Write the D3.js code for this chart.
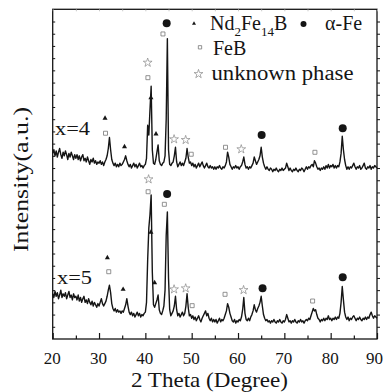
<!DOCTYPE html>
<html><head><meta charset="utf-8">
<script src="https://cdn.jsdelivr.net/npm/d3@7"></script>
<style>body{margin:0;background:#fff} text{font-family:'Liberation Serif','Times New Roman',serif}</style>
</head><body>
<svg id="chart" width="383" height="392"></svg>
<script>
// ---- data ----
const thetaStart = 20, thetaStep = 0.25;   // scan grid (2θ, degrees)
const xTicks = [20, 30, 40, 50, 60, 70, 80, 90];
const xMinorTicks = [25, 35, 45, 55, 65, 75, 85];
const sampleLabels = ["x=4", "x=5"];
const xTitle = "2 Theta (Degree)";
const yTitle = "Intensity(a.u.)";

const intensityX4 = [
  152,155,150,154,149,153,156,151,148,153,150,154,151,147,152,149,153,150,147,151,
  148,151,147,150,146,149,151,146,148,145,149,146,143,147,145,148,144,146,143,145,
  144,146,143,145,142,145,147,150,156,165,155,147,144,142,144,141,143,141,144,142,
  143,145,147,150,146,143,141,143,140,142,144,141,143,140,142,144,141,142,140,142,
  143,148,175,167,188,207,155,144,143,147,153,159,146,143,142,144,145,150,180,246,
  155,143,142,144,145,150,157,145,141,143,145,142,144,142,145,148,156,149,144,145,
  142,144,141,143,140,142,144,141,143,145,142,140,142,144,141,140,142,140,141,139,
  141,139,141,140,142,140,139,141,140,142,145,153,149,143,141,139,141,140,142,140,
  141,139,141,142,145,149,143,140,141,139,141,140,142,144,149,146,143,145,147,150,
  157,149,144,141,139,141,139,138,140,139,137,139,138,140,138,137,139,138,140,138,
  139,140,144,141,138,140,138,137,139,138,140,138,137,139,138,140,139,137,139,141,
  139,141,140,142,143,141,146,144,141,139,140,138,140,139,141,139,142,140,143,140,
  142,141,143,140,142,140,142,141,145,152,166,155,147,142,139,141,139,141,140,142,
  144,141,139,141,140,142,139,140,142,144,140,139,141,140,142,139,141,140,142,141,
  140
];
const intensityX5 = [
  37,34,39,35,38,33,36,40,34,37,35,38,33,36,39,34,36,32,37,34,
  35,32,36,31,34,30,33,35,30,32,29,33,30,28,31,27,30,28,26,29,
  27,30,33,29,27,29,31,35,40,44,38,29,25,23,25,22,24,22,23,21,
  23,22,25,28,33,27,22,20,22,19,21,18,20,22,19,21,18,20,19,21,
  22,30,65,91,102,118,55,28,26,29,32,36,24,21,20,23,27,40,85,104,
  50,24,19,21,23,27,35,24,19,21,18,20,22,19,21,27,37,26,19,20,
  17,19,16,18,15,17,19,16,14,17,19,21,23,19,21,17,15,17,14,16,
  14,16,13,15,17,14,16,15,17,20,23,29,26,21,18,15,14,16,13,15,
  14,16,15,18,24,34,21,16,15,17,15,18,20,23,28,24,22,25,27,30,
  35,27,20,17,15,16,14,15,13,15,14,16,14,13,15,14,16,14,13,15,
  14,16,20,17,14,15,13,15,14,16,14,13,15,14,16,14,15,13,15,16,
  15,17,16,19,22,25,23,24,20,17,16,14,16,15,17,15,17,16,19,16,
  17,15,17,16,18,16,18,17,21,30,43,32,22,18,16,18,15,17,16,18,
  19,17,15,17,16,18,16,15,17,16,18,16,18,17,20,22,19,17,19,18,
  17
];

// phase markers: [2θ, intensity]
const nd2fe14bMarks = [[31.3,180.8],[35.5,157.5],[41.2,197.6],[42.3,167.9],
                       [31.8,66.6],[35.2,40.7],[41.2,87.4],[42.0,46.1]];
const alphaFeMarks  = [[44.6,258.6],[65.1,167.1],[82.6,172.6],
                       [44.7,118.8],[65.3,41.5],[82.6,50.5]];
const feBMarks      = [[31.4,168.5],[40.55,214.0],[43.8,249.8],[49.9,151.3],[57.3,157.0],[76.6,152.9],
                       [32.1,55.1],[40.6,120.6],[44.1,110.3],[50.1,27.3],[57.2,36.6],[76.1,31.1]];
const unknownMarks  = [[40.5,226.3],[46.2,163.6],[48.7,163.0],[60.7,155.4],
                       [40.7,130.8],[46.2,40.7],[48.7,41.5],[61.2,40.1]];

// ---- drawing ----
const svg = d3.select("#chart");
const serif = "'Liberation Serif','Times New Roman',serif";
const ink = "#151515";
const L = 52.7, R = 377, T = 9.3, B = 339;
const x = d3.scaleLinear().domain([20, 90]).range([L, R]);
const y = d3.scaleLinear().domain([0, 270]).range([B, T]);

const toPts = arr => arr.map((v, i) => [thetaStart + i * thetaStep, v]);
const line = d3.line().x(d => x(d[0])).y(d => y(d[1]));

// frame
svg.append("rect").attr("x", L).attr("y", T).attr("width", R - L).attr("height", B - T)
  .attr("fill", "none").attr("stroke", ink).attr("stroke-width", 1.3);

// bottom axis (ticks inward)
const gx = svg.append("g").attr("transform", `translate(0,${B})`)
  .call(d3.axisBottom(x).tickValues(xTicks).tickSize(-6).tickFormat(d3.format("d")));
gx.attr("font-family", serif);
gx.select(".domain").remove();
gx.selectAll(".tick line").attr("stroke", ink).attr("stroke-width", 1.2);
gx.selectAll(".tick text").style("font-family", serif).attr("font-size", 17).attr("fill", ink)
  .attr("dy", "0.71em").attr("y", 13).attr("x", d => d === 90 ? -3 : -1);
const gxm = svg.append("g").attr("transform", `translate(0,${B})`)
  .call(d3.axisBottom(x).tickValues(xMinorTicks).tickSize(-3.5).tickFormat(""));
gxm.select(".domain").remove();
gxm.selectAll(".tick line").attr("stroke", ink).attr("stroke-width", 1.2);

// top minor ticks (faint)
const gt = svg.append("g").attr("transform", `translate(0,${T})`)
  .call(d3.axisTop(x).tickValues(xTicks.concat(xMinorTicks)).tickSize(-2).tickFormat(""));
gt.select(".domain").remove();
gt.selectAll(".tick line").attr("stroke", "#bbb").attr("stroke-width", 0.8);

// left (inward) and right (outward) ticks, no labels
const yTickVals = d3.range(10, 270, 10);
const gl = svg.append("g").attr("transform", `translate(${L},0)`)
  .call(d3.axisLeft(y).tickValues(yTickVals).tickSize(-2.5).tickFormat(""));
gl.select(".domain").remove();
gl.selectAll(".tick line").attr("stroke", ink).attr("stroke-width", 1);
const gr = svg.append("g").attr("transform", `translate(${R},0)`)
  .call(d3.axisRight(y).tickValues(yTickVals).tickSize(3).tickFormat(""));
gr.select(".domain").remove();
gr.selectAll(".tick line").attr("stroke", ink).attr("stroke-width", 1);

// curves
[intensityX4, intensityX5].forEach(arr => {
  svg.append("path").datum(toPts(arr)).attr("d", line)
    .attr("fill", "none").attr("stroke", ink).attr("stroke-width", 1.4)
    .attr("stroke-linejoin", "round");
});

// markers
const sym = (type, size) => d3.symbol().type(type).size(size)();
function drawMarks(data, type, size, fill, stroke, sw) {
  svg.append("g").selectAll("path").data(data).join("path")
    .attr("transform", d => `translate(${x(d[0])},${y(d[1])})`)
    .attr("d", sym(type, size)).attr("fill", fill).attr("stroke", stroke).attr("stroke-width", sw);
}
drawMarks(nd2fe14bMarks, d3.symbolTriangle, 11, ink, "none", 0);
drawMarks(feBMarks, d3.symbolSquare, 16, "#fff", "#777", 0.8);
drawMarks(unknownMarks, d3.symbolStar, 24, "#fff", "#888", 0.7);
svg.append("g").selectAll("circle").data(alphaFeMarks).join("circle")
  .attr("cx", d => x(d[0])).attr("cy", d => y(d[1])).attr("r", 4).attr("fill", ink);

// sample labels
svg.append("text").attr("x", 55).attr("y", 134.5).text(sampleLabels[0])
  .style("font-family", serif).attr("font-size", 19).attr("fill", ink)
  .attr("textLength", 35).attr("lengthAdjust", "spacingAndGlyphs");
svg.append("text").attr("x", 57).attr("y", 284.3).text(sampleLabels[1])
  .style("font-family", serif).attr("font-size", 19).attr("fill", ink)
  .attr("textLength", 35).attr("lengthAdjust", "spacingAndGlyphs");

// legend
const lg = svg.append("g").style("font-family", serif).attr("fill", ink);
lg.append("path").attr("transform", "translate(194,23.5)").attr("d", sym(d3.symbolTriangle, 7)).attr("fill", ink);
const t1 = lg.append("text").attr("x", 210).attr("y", 29.5).attr("font-size", 20).style("font-family", serif);
t1.append("tspan").text("Nd");
t1.append("tspan").text("2").attr("font-size", 13).attr("dy", 6);
t1.append("tspan").text("Fe").attr("dy", -6);
t1.append("tspan").text("14").attr("font-size", 13).attr("dy", 6);
t1.append("tspan").text("B").attr("dy", -6);
lg.append("circle").attr("cx", 303.5).attr("cy", 24).attr("r", 3).attr("fill", ink);
lg.append("text").attr("x", 325).attr("y", 29.5).attr("font-size", 20).style("font-family", serif).text("α-Fe");
lg.append("path").attr("transform", "translate(200,47.3)").attr("d", sym(d3.symbolSquare, 11))
  .attr("fill", "#fff").attr("stroke", "#777").attr("stroke-width", 0.8);
lg.append("text").attr("x", 213).attr("y", 55).attr("font-size", 20).style("font-family", serif).text("FeB");
lg.append("path").attr("transform", "translate(198.5,74)").attr("d", sym(d3.symbolStar, 24))
  .attr("fill", "#fff").attr("stroke", "#888").attr("stroke-width", 0.7);
lg.append("text").attr("x", 211.5).attr("y", 79.5).attr("font-size", 20).style("font-family", serif)
  .text("unknown phase").attr("textLength", 142).attr("lengthAdjust", "spacingAndGlyphs");

// axis titles
svg.append("text").attr("x", 131).attr("y", 387).text(xTitle)
  .style("font-family", serif).attr("font-size", 21).attr("fill", ink)
  .attr("textLength", 157).attr("lengthAdjust", "spacingAndGlyphs");
svg.append("text").attr("transform", "translate(28,179.5) rotate(-90)").attr("text-anchor", "middle")
  .text(yTitle).style("font-family", serif).attr("font-size", 21).attr("fill", ink)
  .attr("textLength", 145).attr("lengthAdjust", "spacingAndGlyphs");
</script>
</body></html>
